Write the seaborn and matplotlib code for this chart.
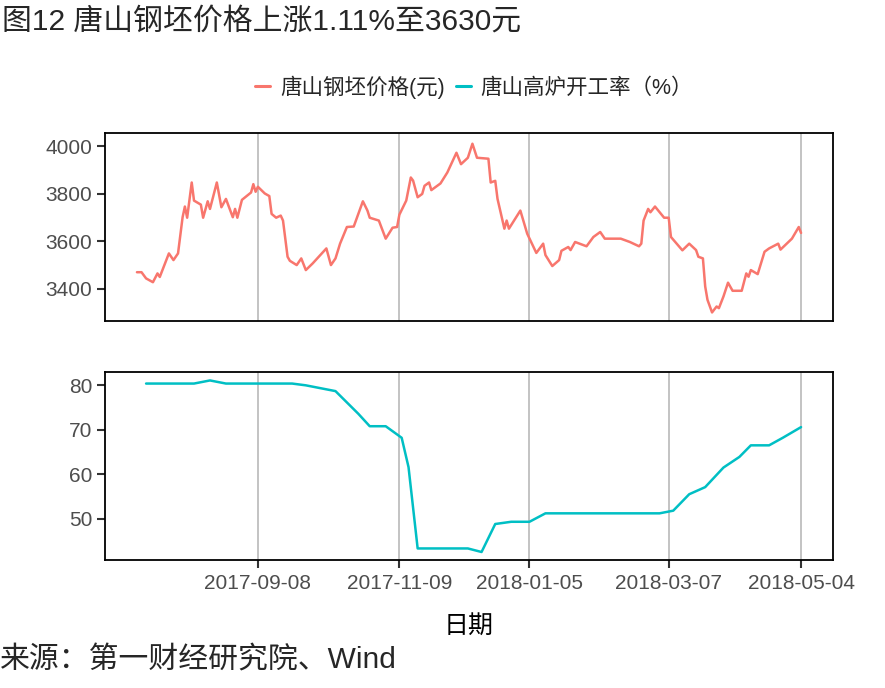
import matplotlib
matplotlib.use("Agg")
import matplotlib.pyplot as plt
import matplotlib.dates as mdates
from matplotlib.lines import Line2D
import seaborn as sns
import pandas as pd

# Tangshan billet price (yuan)
price_dates = [
    "2017-07-17", "2017-07-19", "2017-07-21", "2017-07-24", "2017-07-26", "2017-07-27",
    "2017-07-31", "2017-08-02", "2017-08-04", "2017-08-06", "2017-08-07", "2017-08-08",
    "2017-08-10", "2017-08-11", "2017-08-14", "2017-08-15", "2017-08-17", "2017-08-18",
    "2017-08-21", "2017-08-23", "2017-08-25", "2017-08-28", "2017-08-29", "2017-08-30",
    "2017-09-01", "2017-09-05", "2017-09-06", "2017-09-07", "2017-09-08", "2017-09-11",
    "2017-09-13", "2017-09-14", "2017-09-16", "2017-09-18", "2017-09-19", "2017-09-21",
    "2017-09-22", "2017-09-25", "2017-09-27", "2017-09-29", "2017-10-02", "2017-10-08",
    "2017-10-10", "2017-10-12", "2017-10-14", "2017-10-17", "2017-10-20", "2017-10-24",
    "2017-10-26", "2017-10-27", "2017-10-31", "2017-11-03", "2017-11-06", "2017-11-08",
    "2017-11-09", "2017-11-12", "2017-11-14", "2017-11-15", "2017-11-17", "2017-11-19",
    "2017-11-20", "2017-11-22", "2017-11-23", "2017-11-27", "2017-11-30", "2017-12-04",
    "2017-12-06", "2017-12-09", "2017-12-11", "2017-12-13", "2017-12-18", "2017-12-19",
    "2017-12-21", "2017-12-22", "2017-12-25", "2017-12-26", "2017-12-27", "2018-01-01",
    "2018-01-04", "2018-01-08", "2018-01-11", "2018-01-12", "2018-01-15", "2018-01-18",
    "2018-01-19", "2018-01-22", "2018-01-23", "2018-01-25", "2018-01-30", "2018-02-02",
    "2018-02-05", "2018-02-07", "2018-02-14", "2018-02-18", "2018-02-22", "2018-02-23",
    "2018-02-24", "2018-02-26", "2018-02-27", "2018-03-01", "2018-03-05", "2018-03-07",
    "2018-03-08", "2018-03-13", "2018-03-16", "2018-03-19", "2018-03-20", "2018-03-22",
    "2018-03-23", "2018-03-24", "2018-03-26", "2018-03-28", "2018-03-29", "2018-03-31",
    "2018-04-02", "2018-04-04", "2018-04-08", "2018-04-10", "2018-04-11", "2018-04-12",
    "2018-04-15", "2018-04-18", "2018-04-20", "2018-04-24", "2018-04-25", "2018-04-30",
    "2018-05-03", "2018-05-04",
]
price_values = [
    3470, 3470, 3444, 3428, 3465, 3450,
    3549, 3521, 3549, 3701, 3746, 3699,
    3847, 3771, 3754, 3699, 3768, 3736,
    3847, 3743, 3778, 3701, 3736, 3699,
    3774, 3805, 3840, 3808, 3829, 3801,
    3790, 3715, 3699, 3708, 3687, 3535,
    3518, 3500, 3528, 3479, 3507, 3570,
    3500, 3528, 3590, 3660, 3662, 3768,
    3729, 3699, 3687, 3611, 3657, 3660,
    3712, 3771, 3868, 3855, 3785, 3799,
    3833, 3847, 3815, 3843, 3889, 3972,
    3924, 3951, 4010, 3951, 3947, 3847,
    3854, 3778, 3653, 3687, 3653, 3729,
    3632, 3551, 3590, 3542, 3496, 3521,
    3560, 3576, 3563, 3597, 3579, 3618,
    3639, 3611, 3611, 3597, 3579, 3590,
    3687, 3736, 3722, 3746, 3699, 3699,
    3618, 3562, 3590, 3563, 3535, 3528,
    3410, 3354, 3301, 3326, 3319, 3368,
    3426, 3392, 3392, 3465, 3451, 3479,
    3462, 3556, 3570, 3590, 3565, 3611,
    3660, 3635,
]

# Tangshan blast furnace operating rate (%)
rate_dates = [
    "2017-07-21", "2017-08-11", "2017-08-18", "2017-08-25", "2017-09-23", "2017-09-29",
    "2017-10-08", "2017-10-12", "2017-10-22", "2017-10-27", "2017-11-03", "2017-11-10",
    "2017-11-13", "2017-11-17", "2017-12-09", "2017-12-15", "2017-12-21", "2017-12-28",
    "2018-01-05", "2018-01-12", "2018-03-03", "2018-03-09", "2018-03-16", "2018-03-23",
    "2018-03-31", "2018-04-07", "2018-04-12", "2018-04-20", "2018-04-26", "2018-05-04",
]
rate_values = [
    80.4, 80.4, 81.1, 80.4, 80.4, 80.0,
    79.1, 78.7, 73.6, 70.8, 70.8, 68.2,
    61.6, 43.3, 43.3, 42.5, 48.8, 49.3,
    49.3, 51.2, 51.2, 51.8, 55.5, 57.1,
    61.5, 63.9, 66.5, 66.5, 68.2, 70.6,
]

tick_dates = ["2017-09-08", "2017-11-09", "2018-01-05", "2018-03-07", "2018-05-04"]
series_names = ["唐山钢坯价格(元)", "唐山高炉开工率（%）"]
series_colors = ["#F8766D", "#00BFC4"]

TITLE = "图12 唐山钢坯价格上涨1.11%至3630元"
CAPTION = "来源：第一财经研究院、Wind"
XLABEL = "日期"


def style_panel(ax, yticks, show_x):
    """Gives a panel the ggplot-like look of the reference."""
    ax.set_facecolor("white")
    ax.set_xticks(pd.to_datetime(tick_dates))
    ax.xaxis.set_major_formatter(mdates.DateFormatter("%Y-%m-%d"))
    ax.set_yticks(yticks)
    ax.grid(axis="x", color="#B3B3B3", linewidth=1.1)
    ax.grid(axis="y", visible=False)
    for spine in ax.spines.values():
        spine.set_visible(True)
        spine.set_color("black")
        spine.set_linewidth(1.3)
    ax.tick_params(axis="y", length=6, width=1.5, color="#333333",
                   labelsize=15, labelcolor="#4D4D4D", pad=3, left=True)
    if show_x:
        ax.tick_params(axis="x", length=6, width=1.5, color="#333333",
                       labelsize=15, labelcolor="#4D4D4D", pad=4, bottom=True)
    else:
        ax.tick_params(axis="x", length=0, labelbottom=False)
    ax.set_xlim(pd.Timestamp("2017-07-03"), pd.Timestamp("2018-05-18"))
    ax.set_ylabel("")
    ax.set_xlabel("")


def main():
    sns.set_theme(style="white")
    plt.rcParams["font.family"] = ["Liberation Sans", "Noto Sans CJK SC", "DejaVu Sans"]
    plt.rcParams["axes.unicode_minus"] = False

    price = pd.DataFrame({"date": pd.to_datetime(price_dates), "value": price_values})
    rate = pd.DataFrame({"date": pd.to_datetime(rate_dates), "value": rate_values})

    fig = plt.figure(figsize=(8.85, 6.88), dpi=100)
    ax_top = fig.add_axes([105 / 885, 1 - 321 / 688, 728 / 885, 188 / 688])
    ax_bot = fig.add_axes([105 / 885, 1 - 560 / 688, 728 / 885, 188 / 688], sharex=ax_top)

    sns.lineplot(data=price, x="date", y="value", ax=ax_top, color=series_colors[0], linewidth=1.8)
    sns.lineplot(data=rate, x="date", y="value", ax=ax_bot, color=series_colors[1], linewidth=1.8)

    style_panel(ax_top, [3400, 3600, 3800, 4000], show_x=False)
    style_panel(ax_bot, [50, 60, 70, 80], show_x=True)
    ax_top.set_ylim(3265, 4055)
    ax_bot.set_ylim(40.7, 83.0)

    ax_bot.set_xlabel(XLABEL, fontsize=18, color="black", labelpad=15)

    handles = [Line2D([], [], color=c, linewidth=2.2) for c in series_colors]
    fig.legend(handles, series_names, loc="center", bbox_to_anchor=(474 / 885, 1 - 87 / 688),
               ncol=2, frameon=False, fontsize=15.5, handlelength=0.7, handletextpad=0.45,
               columnspacing=0.5)

    fig.text(2 / 885, 1 - 22 / 688, TITLE, fontsize=21.5, ha="left", va="center")
    fig.text(0, 1 - 660 / 688, CAPTION, fontsize=21.5, ha="left", va="center")

    fig.savefig("out.png", dpi=100, facecolor="white")


if __name__ == "__main__":
    main()
